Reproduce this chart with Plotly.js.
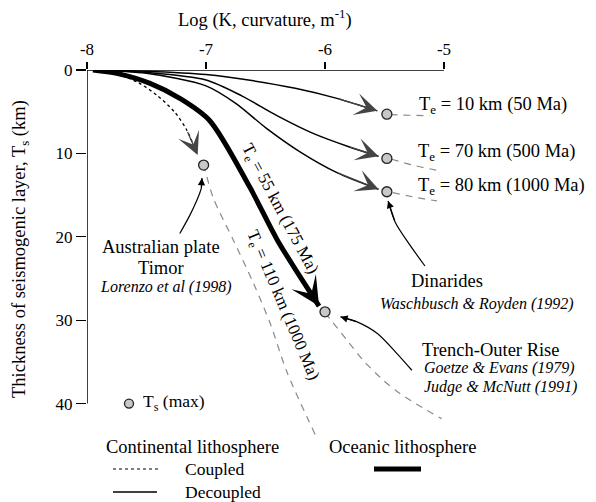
<!DOCTYPE html>
<html><head><meta charset="utf-8">
<script src="https://cdn.plot.ly/plotly-3.0.1.min.js"></script>
<style>body{margin:0;background:#fff}</style>
</head><body><div id="chart" style="width:596px;height:502px"></div>
<script>
// axis ticks
const xTickVals = [-8, -7, -6, -5];
const xTickText = ['-8', '-7', '-6', '-5'];
const yTickVals = [0, 10, 20, 30, 40];
const yTickText = ['0', '10', '20', '30', '40'];

// Continental, decoupled (solid thin) curves
const te10X = [-7.95, -7.5, -7.0, -6.6, -6.25, -5.9, -5.56];
const te10Y = [0, 0.15, 0.55, 1.3, 2.2, 3.4, 4.9];
const te70X = [-7.95, -7.5, -7.0, -6.7, -6.4, -6.1, -5.8, -5.55];
const te70Y = [0, 0.3, 1.2, 3.1, 5.5, 7.6, 9.2, 10.35];
const te80X = [-7.95, -7.5, -7.0, -6.75, -6.5, -6.2, -5.9, -5.55];
const te80Y = [0, 0.4, 1.9, 4.0, 6.9, 9.9, 12.3, 14.3];
// Continental, coupled (dashed) curve to Australian plate
const ausX = [-7.95, -7.75, -7.57, -7.41, -7.26, -7.16, -7.07];
const ausY = [0, 0.5, 1.5, 3.06, 5.1, 7.25, 10.2];
// Oceanic (thick) curve
const oceX = [-7.95, -7.75, -7.47, -7.22, -6.97, -6.63, -6.40, -6.05];
const oceY = [0, 0.4, 1.6, 3.4, 6.05, 14.1, 20.4, 28.3];

// Ts (max) points
const tsMaxX = [-5.48, -5.48, -5.48, -7.02, -6.00];
const tsMaxY = [5.3, 10.6, 14.6, 11.4, 29.0];

// grey dashed continuations beyond Ts(max)
const c10X = [-5.45, -5.12];
const c10Y = [5.35, 5.5];
const c70X = [-5.44, -5.25, -5.05];
const c70Y = [10.7, 11.45, 12.05];
const c80X = [-5.43, -5.23, -5.06];
const c80Y = [14.7, 15.3, 15.7];
const c110X = [-7.02, -6.94, -6.77, -6.60, -6.46, -6.32, -6.08];
const c110Y = [11.3, 15.3, 20.4, 25.6, 30.4, 36.2, 43.8];
const cTrX = [-6.0, -5.815, -5.68, -5.51, -5.37, -5.18, -5.02];
const cTrY = [29.1, 32.4, 34.8, 37.2, 38.8, 40.5, 41.8];

// pointer arrows from labels
const pAusX = [-7.22, -7.135, -7.076, -7.04, -7.034];
const pAusY = [19.6, 17.4, 15.6, 14.2, 12.95];
const pDinX = [-5.16, -5.286, -5.41, -5.47];
const pDinY = [23.5, 21.0, 18.25, 15.7];
const pTrX = [-5.27, -5.395, -5.56, -5.73, -5.87];
const pTrY = [36.0, 34.0, 31.6, 30.2, 29.6];

// legend marker position
const legPtX = [-7.647];
const legPtY = [40.0];

const FONT = '"Liberation Serif", "Times New Roman", Times, "DejaVu Serif", serif';
const L = 87, T = 70, W = 369, H = 372;
const XPER = 119, YPER = 8.34;
const px = x => (x - L) / W;
const py = y => 1 - (y - T) / H;

const traces = [];
const annotations = [];
function line(xs, ys, color, width, dash) {
  traces.push({x: xs, y: ys, mode: 'lines', type: 'scatter', hoverinfo: 'skip',
    line: {color: color, width: width, dash: dash || 'solid', shape: 'spline', smoothing: 0.8}});
}
function arrow(xs, ys, head, aw, asz, color, back) {
  const n = xs.length;
  const k = n - 1 - (back || 1);
  annotations.push({x: xs[n-1], y: ys[n-1], ax: xs[k], ay: ys[k], xref: 'x', yref: 'y',
    axref: 'x', ayref: 'y', text: '', showarrow: true, arrowhead: head, arrowwidth: aw,
    arrowsize: asz, arrowcolor: color, standoff: 0, startstandoff: 0});
}
// grey continuation lines
[[c10X, c10Y], [c70X, c70Y], [c80X, c80Y], [c110X, c110Y], [cTrX, cTrY]].forEach(
  p => line(p[0], p[1], '#8a8a8a', 1.2, '7px,6px'));
// main curves
line(te10X, te10Y, '#000', 1.5);
line(te70X, te70Y, '#000', 1.5);
line(te80X, te80Y, '#000', 1.5);
line(ausX, ausY, '#000', 1.3, '3px,3px');
line(oceX, oceY, '#000', 5);
// pointers
line(pAusX, pAusY, '#000', 1.2);
line(pDinX, pDinY, '#000', 1.2);
line(pTrX, pTrY, '#000', 1.2);
// Ts max circles
traces.push({x: tsMaxX, y: tsMaxY, mode: 'markers', type: 'scatter', hoverinfo: 'skip', cliponaxis: false,
  marker: {symbol: 'circle', size: 10, color: '#c8c8c8', line: {color: '#222', width: 1.3}}});
traces.push({x: legPtX, y: legPtY, mode: 'markers', type: 'scatter', hoverinfo: 'skip', cliponaxis: false,
  marker: {symbol: 'circle', size: 9, color: '#c8c8c8', line: {color: '#222', width: 1.3}}});

arrow(te10X, te10Y, 3, 1.3, 2.9, '#444');
arrow(te70X, te70Y, 3, 1.3, 2.9, '#444');
arrow(te80X, te80Y, 3, 1.3, 2.9, '#444');
arrow(ausX, ausY, 3, 1.3, 2.9, '#444');
arrow(oceX, oceY, 3, 2, 2.4, '#000');
arrow(pAusX, pAusY, 2, 1.2, 1.2, '#000');
arrow(pDinX, pDinY, 2, 1.2, 1.2, '#000');
arrow(pTrX, pTrY, 2, 1.2, 1.2, '#000');

const BIG = 18.5, MID = 17.5;
function ann(text, x, y, opt, size) {
  return Object.assign({text: text, x: px(x), y: py(y), xref: 'paper', yref: 'paper',
    showarrow: false, xanchor: 'center', yanchor: 'middle',
    font: {family: FONT, size: size || BIG, color: '#000'}}, opt || {});
}
const IT = {family: FONT, size: 16, color: '#000', style: 'italic'};
const ROT = {family: FONT, size: 17, color: '#000'};
[
  ann('Log (K, curvature, m<sup>-1</sup>)', 265, 19),
  ann('Thickness of seismogenic layer, T<sub>s</sub> (km)', 20, 249, {textangle: -90}),
  ann('T<sub>e</sub> = 10 km (50 Ma)', 417, 105, {xanchor: 'left'}),
  ann('T<sub>e</sub> = 70 km (500 Ma)', 416, 152, {xanchor: 'left'}),
  ann('T<sub>e</sub> = 80 km (1000 Ma)', 416, 187, {xanchor: 'left'}),
  ann('Australian plate', 161, 247),
  ann('Timor', 161, 268),
  ann('Lorenzo et al (1998)', 166, 287, {font: IT}),
  ann('Dinarides', 447, 281),
  ann('Waschbusch &amp; Royden (1992)', 477, 304, {font: IT}),
  ann('Trench-Outer Rise', 420, 350, {xanchor: 'left'}),
  ann('Goetze &amp; Evans (1979)', 422, 368, {xanchor: 'left', font: IT}),
  ann('Judge &amp; McNutt (1991)', 422, 387, {xanchor: 'left', font: IT}),
  ann('T<sub>e</sub> = 55 km (175 Ma)', 279, 209, {textangle: 62, font: ROT}),
  ann('T<sub>e</sub> = 110 km (1000 Ma)', 282, 305, {textangle: 67, font: ROT}),
  ann('T<sub>s</sub> (max)', 141, 402, {xanchor: 'left'}, MID),
  ann('Continental lithosphere', 192, 447),
  ann('Coupled', 183, 469, {xanchor: 'left'}, MID),
  ann('Decoupled', 183, 492, {xanchor: 'left'}, MID),
  ann('Oceanic lithosphere', 327, 447, {xanchor: 'left'})
].forEach(a => annotations.push(a));

const shapes = [
  {type: 'line', xref: 'x', yref: 'y', x0: -8, x1: -5, y0: 0, y1: 0, line: {color: '#000', width: 1.5}},
  {type: 'line', xref: 'x', yref: 'y', x0: -8, x1: -8, y0: 0, y1: 40, line: {color: '#000', width: 1.5}},
  {type: 'line', xref: 'paper', yref: 'paper', x0: px(113), x1: px(160), y0: py(469), y1: py(469), line: {color: '#000', width: 1, dash: '3px,3px'}},
  {type: 'line', xref: 'paper', yref: 'paper', x0: px(113), x1: px(157), y0: py(492), y1: py(492), line: {color: '#000', width: 1.3}},
  {type: 'line', xref: 'paper', yref: 'paper', x0: px(374), x1: px(421), y0: py(469), y1: py(469), line: {color: '#000', width: 5}}
];

const layout = {
  width: 596, height: 502,
  margin: {l: L, r: 596 - L - W, t: T, b: 502 - T - H},
  paper_bgcolor: '#fff', plot_bgcolor: 'rgba(0,0,0,0)',
  showlegend: false,
  font: {family: FONT},
  xaxis: {range: [-8, -8 + W / XPER], side: 'top', tickvals: xTickVals, ticktext: xTickText,
    ticks: 'outside', ticklen: 7, tickwidth: 1.3, tickcolor: '#000', showgrid: false, zeroline: false,
    showline: false, tickfont: {family: FONT, size: 17, color: '#000'}},
  yaxis: {range: [H / YPER, 0], tickvals: yTickVals, ticktext: yTickText,
    ticks: 'outside', ticklen: 10, tickwidth: 1.3, tickcolor: '#000', showgrid: false, zeroline: false,
    showline: false, tickfont: {family: FONT, size: 17, color: '#000'}},
  annotations: annotations,
  shapes: shapes
};
Plotly.newPlot('chart', traces, layout, {staticPlot: true});
</script></body></html>
